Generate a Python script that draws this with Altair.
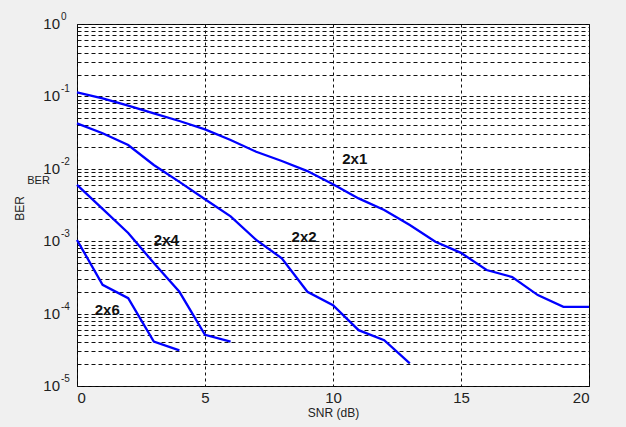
import altair as alt
import pandas as pd

# BER vs SNR for different antenna configurations
snr_2x1 = list(range(0, 21))
ber_2x1 = [0.114, 0.094, 0.0745, 0.0584, 0.0457, 0.0351, 0.025, 0.0172, 0.0128,
           0.0093, 0.0061, 0.0039, 0.0027, 0.00167, 0.00098, 0.00069, 0.0004,
           0.00032, 0.00018, 0.000124, 0.000124]

snr_2x2 = list(range(0, 14))
ber_2x2 = [0.0425, 0.031, 0.0213, 0.0113, 0.0066, 0.0038, 0.0022, 0.00104,
           0.00058, 0.0002, 0.000131, 5.9e-5, 4.3e-5, 2.06e-5]

snr_2x4 = list(range(0, 7))
ber_2x4 = [0.006, 0.0028, 0.0013, 0.0005, 0.0002, 5.1e-5, 4.1e-5]

snr_2x6 = list(range(0, 5))
ber_2x6 = [0.00104, 0.00025, 0.000163, 4.1e-5, 3.1e-5]

series_names = ["2x1", "2x2", "2x4", "2x6"]
series_widths = [2.3, 2.3, 1.4, 1.4]

# in-plot curve labels
label_text = ["2x1", "2x2", "2x4", "2x6"]
label_snr = [10.85, 8.87, 3.49, 1.18]
label_ber = [0.0137, 0.00116, 0.00103, 1.12e-4]

# decade tick labels on the log axis
decade_ber = [1.0, 0.1, 0.01, 0.001, 0.0001, 0.00001]
decade_exp = ["0", "-1", "-2", "-3", "-4", "-5"]

x_ticks = [0, 5, 10, 15, 20]
y_grid = [m * 10.0 ** k for k in range(-5, 0) for m in range(1, 10)] + [1.0]

FONT = "Liberation Sans"

rows = []
for name, xs, ys in [("2x1", snr_2x1, ber_2x1), ("2x2", snr_2x2, ber_2x2),
                     ("2x4", snr_2x4, ber_2x4), ("2x6", snr_2x6, ber_2x6)]:
    for s, b in zip(xs, ys):
        rows.append({"series": name, "snr": s, "ber": b})
curves = pd.DataFrame(rows)

labels_df = pd.DataFrame({"text": label_text, "snr": label_snr, "ber": label_ber})
decades_df = pd.DataFrame({"ber": decade_ber, "exp": decade_exp})
stray_df = pd.DataFrame({"text": ["BER"], "snr": [-1.5], "ber": [0.0068]})

x_scale = alt.Scale(domain=[0, 20], nice=False, zero=False)
y_scale = alt.Scale(type="log", domain=[1e-5, 1], nice=False)

x_axis = alt.Axis(values=x_ticks, grid=True, gridDash=[3, 3], gridColor="#111",
                  ticks=False, domain=False, labelFontSize=15, labelPadding=4,
                  labelColor="#222", labelFont=FONT, title="SNR (dB)",
                  titleFontSize=12, titleFontWeight="normal", titleFont=FONT,
                  titleColor="#222", titlePadding=2)
y_axis = alt.Axis(values=y_grid, grid=True, gridDash=[4, 3], gridColor="#111",
                  labels=False, ticks=False, domain=False, title="BER",
                  titleFontSize=12, titleFontWeight="normal", titleFont=FONT,
                  titleColor="#222", titleX=-58, titleY=184, titleBaseline="middle")

X = alt.X("snr:Q", scale=x_scale, axis=x_axis, title="SNR (dB)")
Y = alt.Y("ber:Q", scale=y_scale, axis=y_axis, title="BER")

lines = alt.Chart(curves).mark_line(color="#0000ff").encode(
    x=X,
    y=Y,
    strokeWidth=alt.StrokeWidth("series:N",
                                scale=alt.Scale(domain=series_names, range=series_widths),
                                legend=None),
    detail="series:N",
)

curve_labels = alt.Chart(labels_df).mark_text(
    fontSize=15, fontWeight="bold", font=FONT, color="#111",
    align="center", baseline="middle"
).encode(x=X, y=Y, text="text:N")

tens = alt.Chart(decades_df).mark_text(
    text="10", fontSize=15, font=FONT, color="#222", align="right", baseline="middle"
).encode(x=alt.value(-17), y=Y)

exps = alt.Chart(decades_df).mark_text(
    fontSize=10, font=FONT, color="#222", align="left", baseline="middle", dy=-7
).encode(x=alt.value(-16), y=Y, text="exp:N")

stray = alt.Chart(stray_df).mark_text(
    fontSize=11, font=FONT, color="#222", align="center", baseline="middle"
).encode(x=X, y=Y, text="text:N")

chart = alt.layer(lines, curve_labels, tens, exps, stray).properties(
    width=512,
    height=362,
    autosize=alt.AutoSizeParams(type="none"),
    padding={"left": 77, "top": 24, "right": 37, "bottom": 41},
    background="#f0f0f0",
).configure_view(fill="white", stroke="black", strokeWidth=1)

chart.save("out.html", embed_options={"renderer": "svg", "actions": False})
